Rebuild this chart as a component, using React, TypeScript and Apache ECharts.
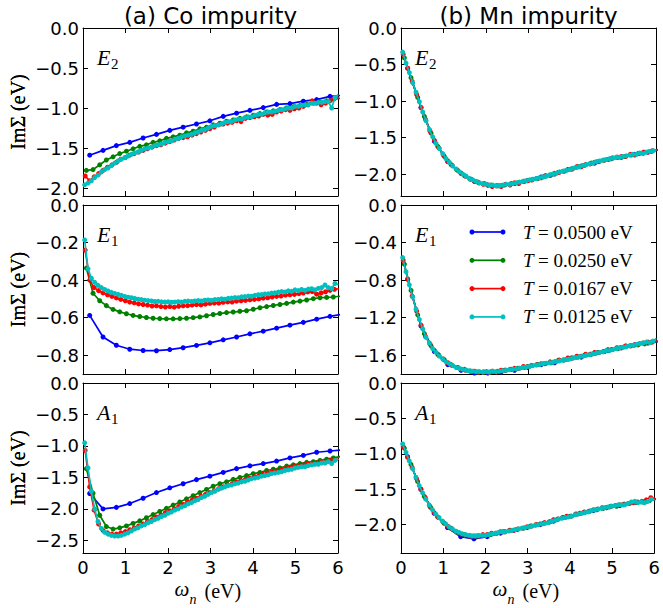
import React, { useEffect, useRef } from 'react';
import * as echarts from 'echarts';

// Matsubara frequencies (eV) for each temperature
const XB = [0.157, 0.471, 0.785, 1.100, 1.414, 1.728, 2.042, 2.356, 2.670, 2.985, 3.299, 3.613, 3.927, 4.241, 4.555, 4.869, 5.184, 5.498, 5.812, 6.126];
const XG = [0.079, 0.236, 0.393, 0.550, 0.707, 0.864, 1.021, 1.178, 1.335, 1.492,
  1.649, 1.806, 1.963, 2.121, 2.278, 2.435, 2.592, 2.749, 2.906, 3.063,
  3.220, 3.377, 3.534, 3.691, 3.848, 4.006, 4.163, 4.320, 4.477, 4.634,
  4.791, 4.948, 5.105, 5.262, 5.419, 5.576, 5.733, 5.890, 6.048];
const XR = [0.052, 0.157, 0.262, 0.367, 0.471, 0.576, 0.681, 0.785, 0.890, 0.995,
  1.100, 1.204, 1.309, 1.414, 1.518, 1.623, 1.728, 1.833, 1.937, 2.042,
  2.147, 2.251, 2.356, 2.461, 2.566, 2.670, 2.775, 2.880, 2.985, 3.089,
  3.194, 3.299, 3.403, 3.508, 3.613, 3.718, 3.822, 3.927, 4.032, 4.136,
  4.241, 4.346, 4.451, 4.555, 4.660, 4.765, 4.869, 4.974, 5.079, 5.184,
  5.288, 5.393, 5.498, 5.603, 5.707, 5.812, 5.917, 6.021];
const XC = [0.039, 0.118, 0.196, 0.275, 0.353, 0.432, 0.511, 0.589, 0.668, 0.746,
  0.825, 0.903, 0.982, 1.060, 1.139, 1.217, 1.296, 1.374, 1.453, 1.532,
  1.610, 1.689, 1.767, 1.846, 1.924, 2.003, 2.081, 2.160, 2.238, 2.317,
  2.395, 2.474, 2.553, 2.631, 2.710, 2.788, 2.867, 2.945, 3.024, 3.102,
  3.181, 3.259, 3.338, 3.416, 3.495, 3.574, 3.652, 3.731, 3.809, 3.888,
  3.966, 4.045, 4.123, 4.202, 4.280, 4.359, 4.437, 4.516, 4.595, 4.673,
  4.752, 4.830, 4.909, 4.987, 5.066, 5.144, 5.223, 5.301, 5.380, 5.458,
  5.537, 5.616, 5.694, 5.773, 5.851, 5.930, 6.008];

// (a) Co impurity, E2
const coE2_b = [-1.59, -1.53, -1.47, -1.43, -1.375, -1.33, -1.28, -1.24, -1.20, -1.16, -1.105, -1.065, -1.03, -0.995, -0.955, -0.945, -0.915, -0.895, -0.855, -0.84];
const coE2_g = [-1.78, -1.77, -1.71, -1.65, -1.61, -1.57, -1.54, -1.51, -1.48, -1.46,
  -1.43, -1.41, -1.38, -1.36, -1.34, -1.31, -1.29, -1.26, -1.24, -1.21,
  -1.19, -1.165, -1.15, -1.13, -1.11, -1.09, -1.07, -1.05, -1.035, -1.02,
  -1.00, -0.985, -0.97, -0.955, -0.94, -0.925, -0.91, -0.89, -0.88];
const coE2_r = [-1.85, -1.91, -1.86, -1.82, -1.78, -1.74, -1.71, -1.68, -1.64, -1.62,
  -1.59, -1.57, -1.55, -1.53, -1.51, -1.49, -1.47, -1.46, -1.44, -1.42,
  -1.40, -1.38, -1.37, -1.36, -1.34, -1.32, -1.30, -1.28, -1.26, -1.24,
  -1.21, -1.20, -1.19, -1.18, -1.16, -1.17, -1.13, -1.12, -1.11, -1.10,
  -1.08, -1.09, -1.08, -1.05, -1.04, -1.02, -1.03, -1.01, -1.00, -0.98,
  -0.96, -0.91, -0.94, -0.96, -0.94, -0.91, -0.88, -0.87];
const coE2_c = [-1.96, -1.94, -1.91, -1.87, -1.84, -1.80, -1.77, -1.75, -1.72, -1.69,
  -1.66, -1.64, -1.62, -1.60, -1.58, -1.56, -1.55, -1.53, -1.51, -1.50,
  -1.49, -1.47, -1.46, -1.45, -1.43, -1.42, -1.41, -1.39, -1.38, -1.36,
  -1.35, -1.34, -1.33, -1.31, -1.30, -1.28, -1.27, -1.25, -1.23, -1.22,
  -1.21, -1.20, -1.18, -1.17, -1.17, -1.15, -1.14, -1.14, -1.12, -1.11,
  -1.11, -1.09, -1.08, -1.08, -1.06, -1.05, -1.05, -1.04, -1.03, -1.02,
  -1.01, -1.00, -1.00, -0.98, -0.98, -0.97, -0.96, -0.96, -0.94, -0.94,
  -0.93, -0.93, -0.92, -0.92, -1.00, -0.87, -0.83];

// (a) Co impurity, E1
const coE1_b = [-0.588, -0.703, -0.747, -0.768, -0.775, -0.776, -0.770, -0.760, -0.748, -0.734, -0.718, -0.703, -0.686, -0.672, -0.656, -0.640, -0.625, -0.608, -0.593, -0.580];
const coE1_g = [-0.336, -0.47, -0.51, -0.536, -0.556, -0.569, -0.579, -0.588, -0.594, -0.599,
  -0.603, -0.605, -0.606, -0.606, -0.605, -0.603, -0.600, -0.596, -0.590, -0.583,
  -0.578, -0.573, -0.570, -0.566, -0.563, -0.555, -0.547, -0.541, -0.535, -0.530,
  -0.524, -0.517, -0.512, -0.506, -0.499, -0.494, -0.492, -0.490, -0.486];
const coE1_r = [-0.24, -0.40, -0.44, -0.456, -0.468, -0.478, -0.487, -0.495, -0.503, -0.510,
  -0.517, -0.521, -0.527, -0.530, -0.533, -0.538, -0.537, -0.541, -0.543, -0.541,
  -0.544, -0.539, -0.537, -0.536, -0.533, -0.531, -0.532, -0.528, -0.524, -0.522,
  -0.523, -0.518, -0.516, -0.517, -0.512, -0.510, -0.508, -0.505, -0.503, -0.500,
  -0.496, -0.494, -0.490, -0.487, -0.485, -0.480, -0.478, -0.476, -0.472, -0.469,
  -0.463, -0.461, -0.475, -0.468, -0.462, -0.455, -0.449, -0.446];
const coE1_c = [-0.186, -0.34, -0.39, -0.412, -0.428, -0.44, -0.45, -0.458, -0.465, -0.471,
  -0.476, -0.481, -0.487, -0.491, -0.494, -0.498, -0.502, -0.504, -0.507, -0.509,
  -0.511, -0.514, -0.513, -0.516, -0.517, -0.516, -0.518, -0.517, -0.515, -0.517,
  -0.513, -0.512, -0.514, -0.511, -0.509, -0.511, -0.507, -0.506, -0.508, -0.504,
  -0.503, -0.500, -0.502, -0.497, -0.496, -0.493, -0.494, -0.489, -0.488, -0.485,
  -0.486, -0.481, -0.478, -0.477, -0.474, -0.473, -0.469, -0.468, -0.464, -0.461,
  -0.463, -0.457, -0.460, -0.452, -0.456, -0.450, -0.455, -0.448, -0.446, -0.452,
  -0.444, -0.440, -0.426, -0.440, -0.445, -0.418, -0.425];

// (a) Co impurity, A1
const coA1_b = [-1.755, -2.00, -1.975, -1.915, -1.83, -1.74, -1.665, -1.60, -1.535, -1.48, -1.42, -1.36, -1.315, -1.28, -1.24, -1.19, -1.15, -1.10, -1.08, -1.06];
const coA1_g = [-1.36, -1.75, -2.10, -2.28, -2.32, -2.30, -2.27, -2.23, -2.19, -2.14,
  -2.09, -2.04, -1.99, -1.94, -1.89, -1.84, -1.79, -1.74, -1.69, -1.64,
  -1.60, -1.57, -1.53, -1.50, -1.47, -1.44, -1.42, -1.39, -1.37, -1.35,
  -1.32, -1.30, -1.28, -1.26, -1.25, -1.23, -1.21, -1.19, -1.17];
const coA1_r = [-1.07, -1.65, -2.02, -2.24, -2.34, -2.38, -2.40, -2.40, -2.38, -2.36,
  -2.33, -2.30, -2.27, -2.24, -2.20, -2.17, -2.13, -2.10, -2.06, -2.03,
  -2.00, -1.96, -1.93, -1.89, -1.86, -1.83, -1.80, -1.77, -1.74, -1.71,
  -1.68, -1.65, -1.62, -1.60, -1.57, -1.55, -1.53, -1.51, -1.49, -1.47,
  -1.45, -1.43, -1.41, -1.40, -1.38, -1.36, -1.35, -1.32, -1.32, -1.30,
  -1.28, -1.29, -1.27, -1.25, -1.26, -1.23, -1.22, -1.21];
const coA1_c = [-0.95, -1.35, -1.72, -2.00, -2.20, -2.31, -2.37, -2.40, -2.42, -2.43,
  -2.43, -2.42, -2.40, -2.38, -2.35, -2.32, -2.30, -2.27, -2.25, -2.22,
  -2.20, -2.17, -2.15, -2.12, -2.10, -2.07, -2.05, -2.02, -2.00, -1.97,
  -1.95, -1.92, -1.90, -1.87, -1.85, -1.82, -1.80, -1.77, -1.74, -1.72,
  -1.69, -1.67, -1.65, -1.63, -1.62, -1.60, -1.59, -1.57, -1.56, -1.54,
  -1.52, -1.51, -1.50, -1.48, -1.47, -1.46, -1.44, -1.43, -1.42, -1.41,
  -1.39, -1.38, -1.37, -1.35, -1.34, -1.33, -1.33, -1.31, -1.30, -1.29,
  -1.29, -1.27, -1.27, -1.25, -1.28, -1.23, -1.21];

// (b) Mn impurity, E2
const mnE2_b = [-0.55, -1.09, -1.55, -1.83, -1.99, -2.10, -2.15, -2.16, -2.13, -2.09, -2.04, -2.00, -1.94, -1.89, -1.85, -1.80, -1.77, -1.73, -1.70, -1.66];
const mnE2_g = [-0.41, -0.68, -0.95, -1.21, -1.44, -1.62, -1.76, -1.87, -1.95, -2.02,
  -2.07, -2.11, -2.13, -2.15, -2.16, -2.15, -2.13, -2.12, -2.10, -2.08,
  -2.06, -2.03, -2.01, -1.98, -1.96, -1.93, -1.90, -1.88, -1.85, -1.83,
  -1.81, -1.79, -1.77, -1.76, -1.74, -1.72, -1.70, -1.69, -1.67];
const mnE2_r = [-0.36, -0.55, -0.73, -0.91, -1.09, -1.25, -1.41, -1.54, -1.64, -1.74,
  -1.82, -1.88, -1.94, -1.99, -2.03, -2.07, -2.10, -2.12, -2.14, -2.15,
  -2.17, -2.16, -2.17, -2.14, -2.15, -2.12, -2.13, -2.10, -2.09, -2.08,
  -2.06, -2.05, -2.02, -2.02, -1.99, -1.98, -1.96, -1.94, -1.93, -1.90,
  -1.90, -1.87, -1.86, -1.84, -1.83, -1.81, -1.80, -1.78, -1.77, -1.76,
  -1.76, -1.73, -1.74, -1.72, -1.70, -1.70, -1.68, -1.67];
const mnE2_c = [-0.33, -0.48, -0.61, -0.75, -0.88, -1.01, -1.15, -1.27, -1.39, -1.49,
  -1.58, -1.65, -1.72, -1.79, -1.84, -1.89, -1.93, -1.97, -2.00, -2.03,
  -2.06, -2.08, -2.10, -2.12, -2.13, -2.14, -2.15, -2.15, -2.16, -2.16,
  -2.15, -2.14, -2.14, -2.13, -2.12, -2.11, -2.10, -2.09, -2.08, -2.07,
  -2.06, -2.05, -2.04, -2.03, -2.01, -2.00, -1.99, -1.97, -1.96, -1.95,
  -1.94, -1.92, -1.91, -1.90, -1.88, -1.87, -1.86, -1.85, -1.83, -1.82,
  -1.81, -1.80, -1.79, -1.78, -1.77, -1.77, -1.76, -1.75, -1.74, -1.73,
  -1.73, -1.71, -1.72, -1.70, -1.69, -1.68, -1.67];

// (b) Mn impurity, E1
const mnE1_b = [-0.79, -1.29, -1.56, -1.70, -1.76, -1.79, -1.79, -1.78, -1.76, -1.73, -1.70, -1.68, -1.64, -1.62, -1.58, -1.55, -1.52, -1.49, -1.47, -1.45];
const mnE1_g = [-0.63, -0.91, -1.17, -1.37, -1.50, -1.59, -1.65, -1.70, -1.73, -1.75,
  -1.77, -1.78, -1.78, -1.78, -1.77, -1.76, -1.75, -1.74, -1.73, -1.71,
  -1.70, -1.69, -1.68, -1.66, -1.65, -1.63, -1.62, -1.60, -1.59, -1.57,
  -1.56, -1.54, -1.53, -1.51, -1.50, -1.49, -1.48, -1.46, -1.45];
const mnE1_r = [-0.59, -0.79, -0.97, -1.13, -1.28, -1.40, -1.48, -1.55, -1.60, -1.64,
  -1.68, -1.71, -1.73, -1.75, -1.76, -1.77, -1.77, -1.78, -1.78, -1.78,
  -1.77, -1.78, -1.76, -1.76, -1.75, -1.74, -1.74, -1.72, -1.72, -1.71,
  -1.70, -1.69, -1.69, -1.67, -1.67, -1.65, -1.65, -1.63, -1.63, -1.61,
  -1.61, -1.59, -1.59, -1.57, -1.57, -1.56, -1.54, -1.54, -1.52, -1.52,
  -1.50, -1.50, -1.49, -1.48, -1.47, -1.46, -1.46, -1.45];
const mnE1_c = [-0.56, -0.71, -0.85, -0.98, -1.11, -1.22, -1.32, -1.41, -1.47, -1.53,
  -1.57, -1.61, -1.64, -1.67, -1.69, -1.71, -1.73, -1.74, -1.75, -1.76,
  -1.765, -1.77, -1.775, -1.775, -1.78, -1.775, -1.78, -1.77, -1.775, -1.77,
  -1.765, -1.76, -1.755, -1.75, -1.745, -1.74, -1.73, -1.725, -1.72, -1.71,
  -1.705, -1.70, -1.69, -1.685, -1.68, -1.675, -1.665, -1.66, -1.655, -1.645,
  -1.64, -1.63, -1.625, -1.615, -1.61, -1.60, -1.595, -1.585, -1.58, -1.57,
  -1.565, -1.55, -1.55, -1.54, -1.53, -1.52, -1.515, -1.51, -1.50, -1.495,
  -1.485, -1.475, -1.47, -1.46, -1.465, -1.45, -1.42];

// (b) Mn impurity, A1
const mnA1_b = [-1.04, -1.50, -1.84, -2.04, -2.17, -2.20, -2.17, -2.12, -2.08, -2.04, -2.00, -1.95, -1.89, -1.84, -1.80, -1.76, -1.73, -1.69, -1.67, -1.63];
const mnA1_g = [-0.92, -1.15, -1.39, -1.60, -1.76, -1.89, -1.98, -2.05, -2.11, -2.14,
  -2.16, -2.16, -2.15, -2.14, -2.12, -2.10, -2.08, -2.07, -2.05, -2.02,
  -2.00, -1.98, -1.96, -1.93, -1.90, -1.88, -1.85, -1.83, -1.81, -1.79,
  -1.77, -1.75, -1.74, -1.72, -1.70, -1.69, -1.68, -1.66, -1.64];
const mnA1_r = [-0.90, -1.05, -1.19, -1.35, -1.50, -1.62, -1.74, -1.83, -1.90, -1.96,
  -2.02, -2.06, -2.10, -2.13, -2.15, -2.16, -2.16, -2.16, -2.14, -2.14,
  -2.12, -2.12, -2.10, -2.10, -2.08, -2.08, -2.06, -2.05, -2.03, -2.02,
  -2.00, -1.99, -1.97, -1.96, -1.93, -1.92, -1.90, -1.88, -1.88, -1.85,
  -1.84, -1.82, -1.81, -1.79, -1.78, -1.76, -1.76, -1.74, -1.73, -1.72,
  -1.71, -1.70, -1.69, -1.68, -1.67, -1.65, -1.62, -1.63];
const mnA1_c = [-0.86, -0.98, -1.10, -1.21, -1.33, -1.45, -1.55, -1.64, -1.72, -1.79,
  -1.85, -1.90, -1.95, -1.99, -2.03, -2.06, -2.09, -2.11, -2.13, -2.14,
  -2.15, -2.16, -2.16, -2.155, -2.15, -2.15, -2.14, -2.13, -2.12, -2.11,
  -2.10, -2.10, -2.09, -2.08, -2.07, -2.06, -2.05, -2.04, -2.03, -2.02,
  -2.01, -2.00, -1.99, -1.98, -1.97, -1.95, -1.94, -1.92, -1.91, -1.90,
  -1.89, -1.88, -1.86, -1.85, -1.84, -1.83, -1.82, -1.80, -1.79, -1.78,
  -1.77, -1.76, -1.75, -1.74, -1.73, -1.72, -1.72, -1.72, -1.70, -1.68,
  -1.67, -1.69, -1.68, -1.69, -1.67, -1.64, -1.65];

const TICKS_HALF = [0, -0.5, -1, -1.5, -2];
const TICKS_HALF_25 = [0, -0.5, -1, -1.5, -2, -2.5];
const TICKS_CO_E1 = [0, -0.2, -0.4, -0.6, -0.8];
const TICKS_MN_E1 = [0, -0.4, -0.8, -1.2, -1.6];

const TEMPS = ['0.0500', '0.0250', '0.0167', '0.0125'];
const COLORS = ['#0000ff', '#008000', '#ff0000', '#00bfbf'];
const XS = [XB, XG, XR, XC];
const TITLES = ['(a) Co impurity', '(b) Mn impurity'];

const PANELS = [
  { row: 0, col: 0, ymin: -2.1, ticks: TICKS_HALF, sym: 'E', sub: '2', ys: [coE2_b, coE2_g, coE2_r, coE2_c] },
  { row: 0, col: 1, ymin: -2.3, ticks: TICKS_HALF, sym: 'E', sub: '2', ys: [mnE2_b, mnE2_g, mnE2_r, mnE2_c] },
  { row: 1, col: 0, ymin: -0.9, ticks: TICKS_CO_E1, sym: 'E', sub: '1', ys: [coE1_b, coE1_g, coE1_r, coE1_c] },
  { row: 1, col: 1, ymin: -1.8, ticks: TICKS_MN_E1, sym: 'E', sub: '1', ys: [mnE1_b, mnE1_g, mnE1_r, mnE1_c] },
  { row: 2, col: 0, ymin: -2.7, ticks: TICKS_HALF_25, sym: 'A', sub: '1', ys: [coA1_b, coA1_g, coA1_r, coA1_c] },
  { row: 2, col: 1, ymin: -2.4, ticks: TICKS_HALF, sym: 'A', sub: '1', ys: [mnA1_b, mnA1_g, mnA1_r, mnA1_c] },
];

// layout
const COL_LEFT = [83, 401];
const COL_W = 255;
const ROW_TOP = [28, 205, 383];
const ROW_H = [168, 169, 170];

const SANS = 'DejaVu Sans';
const SERIF = 'Liberation Serif';

const fmtY = (v: number) => {
  const a = Math.abs(v).toFixed(1);
  return v < -1e-9 ? '\u2212' + a : a;
};

function txt(text: string, x: number, y: number, size: number, family: string, align: string, valign: string, italic = false, rotation = 0) {
  return {
    type: 'text', x, y, rotation, silent: true,
    style: {
      text, fill: '#000', fontSize: size, fontFamily: family, fontStyle: italic ? 'italic' : 'normal',
      align, verticalAlign: valign, textAlign: align, textVerticalAlign: valign,
    },
  };
}

function buildOption() {
  const grid: any[] = [];
  const xAxis: any[] = [];
  const yAxis: any[] = [];
  const series: any[] = [];
  const graphic: any[] = [];

  const tickStyle = { show: true, inside: true, length: 5, lineStyle: { color: '#000', width: 1 } };
  const lineStyle = { show: true, onZero: false, lineStyle: { color: '#000', width: 1 } };

  PANELS.forEach((p, i) => {
    const left = COL_LEFT[p.col];
    const top = ROW_TOP[p.row];
    const h = ROW_H[p.row];
    grid.push({ left, top, width: COL_W, height: h, containLabel: false });
    const xBase = {
      type: 'value', gridIndex: i, min: 0, max: 6, interval: 1,
      axisLine: lineStyle, axisTick: tickStyle, splitLine: { show: false },
    };
    xAxis.push({
      ...xBase, position: 'bottom',
      axisLabel: { show: p.row === 2, margin: 7, fontFamily: SANS, fontSize: 18, color: '#000', lineHeight: 15 },
    });
    xAxis.push({ ...xBase, position: 'top', axisLabel: { show: false } });
    const yBase = {
      type: 'value', gridIndex: i, min: p.ymin, max: 0,
      axisLine: lineStyle, splitLine: { show: false },
      axisTick: { ...tickStyle, customValues: p.ticks },
    };
    yAxis.push({
      ...yBase, position: 'left',
      axisLabel: { show: true, customValues: p.ticks, formatter: fmtY, margin: 4, fontFamily: SANS, fontSize: 18, color: '#000', lineHeight: 15 },
    });
    yAxis.push({ ...yBase, position: 'right', axisLabel: { show: false } });

    p.ys.forEach((ys, k) => {
      series.push({
        type: 'line', name: 'T=' + TEMPS[k] + ' eV', xAxisIndex: 2 * i, yAxisIndex: 2 * i,
        data: XS[k].map((x, j) => [x, ys[j]]),
        symbol: 'circle', symbolSize: 5, showSymbol: true,
        lineStyle: { color: COLORS[k], width: 1.7 },
        itemStyle: { color: COLORS[k] },
        clip: true, silent: true, z: 2 + k,
      });
    });

    // panel label
    graphic.push(txt(p.sym, left + 14, top + 29, 22, SERIF, 'left', 'middle', true));
    graphic.push(txt(p.sub, left + 28, top + 36, 15, SERIF, 'left', 'middle'));

    // y axis name
    graphic.push(txt('Im\u03A3 (eV)', 18, top + h / 2, 20, SERIF, 'center', 'middle', false, Math.PI / 2));

    // x axis name
    if (p.row === 2) {
      const cx = left + COL_W / 2;
      graphic.push(txt('\u03C9', cx - 36, top + h + 36, 21, SERIF, 'left', 'middle', true));
      graphic.push(txt('n', cx - 21, top + h + 46, 14, SERIF, 'left', 'middle', true));
      graphic.push(txt('(eV)', cx - 6, top + h + 38, 20, SERIF, 'left', 'middle'));
    }
  });

  // titles
  TITLES.forEach((t, c) => {
    graphic.push(txt(t, COL_LEFT[c] + COL_W / 2, 16, 23, SANS, 'center', 'middle'));
  });

  // legend (inside Mn E1 panel)
  const lgTop = ROW_TOP[1];
  TEMPS.forEach((tv, k) => {
    const y = lgTop + 27 + k * 28.3;
    graphic.push({ type: 'line', silent: true, shape: { x1: 472, y1: y, x2: 503, y2: y }, style: { stroke: COLORS[k], lineWidth: 1.7 } });
    graphic.push({ type: 'circle', silent: true, shape: { cx: 472, cy: y, r: 2.5 }, style: { fill: COLORS[k] } });
    graphic.push({ type: 'circle', silent: true, shape: { cx: 503, cy: y, r: 2.5 }, style: { fill: COLORS[k] } });
    graphic.push(txt('T', 523, y, 19, SERIF, 'left', 'middle', true));
    graphic.push(txt('= ' + tv + ' eV', 538, y, 19, SERIF, 'left', 'middle'));
  });

  return {
    animation: false,
    backgroundColor: '#ffffff',
    grid, xAxis, yAxis, series, graphic,
  };
}

export default function App() {
  const ref = useRef<HTMLDivElement>(null);
  useEffect(() => {
    if (!ref.current) return;
    const chart = echarts.init(ref.current, undefined, { renderer: 'svg' });
    chart.setOption(buildOption() as any);
    return () => chart.dispose();
  }, []);
  return <div ref={ref} style={{ position: 'fixed', left: 0, top: 0, width: 663, height: 608, background: '#fff' }} />;
}
